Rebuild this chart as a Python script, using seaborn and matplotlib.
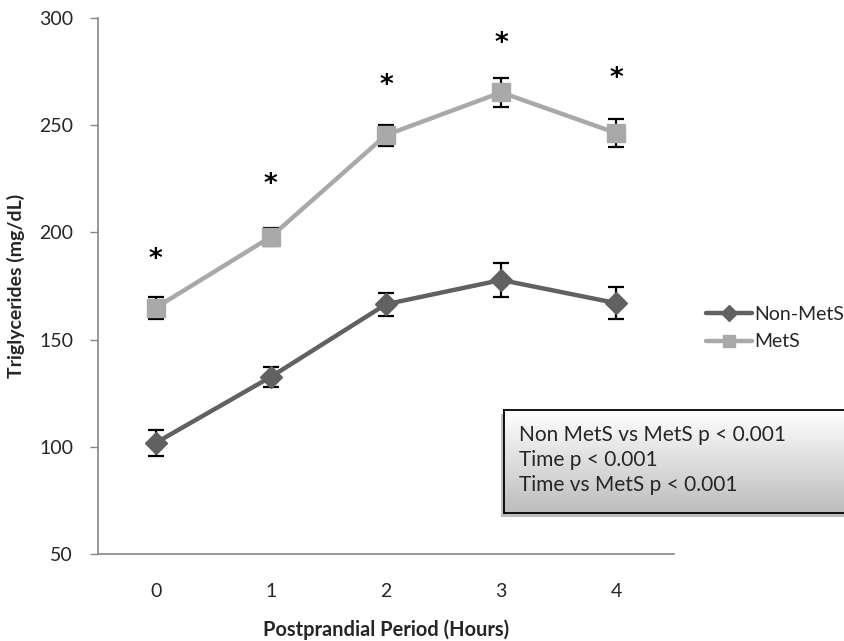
import numpy as np
import pandas as pd
import matplotlib
matplotlib.use("Agg")
import matplotlib.pyplot as plt
import seaborn as sns
from matplotlib.patches import Rectangle
from matplotlib.lines import Line2D

hours = [0, 1, 2, 3, 4]
hour_labels = ["0", "1", "2", "3", "4"]
non_mets = [101.8, 132.6, 166.5, 177.8, 167.0]
non_mets_err = [6.2, 4.6, 5.4, 8.0, 7.6]
mets = [164.8, 197.9, 245.4, 265.3, 246.3]
mets_err = [5.0, 4.2, 4.9, 6.8, 6.6]
star_y = [188.5, 223.5, 270.0, 289.5, 273.0]
stats_lines = ["Non MetS vs MetS p < 0.001", "Time p < 0.001", "Time vs MetS p < 0.001"]

sns.set_style("white")
plt.rcParams['font.family'] = ['Lato', 'DejaVu Sans']

W, H = 845, 641
fig = plt.figure(figsize=(W / 100, H / 100), dpi=100)
ax = fig.add_axes([98 / W, 1 - 554 / H, (674 - 98) / W, (554 - 18) / H])

df = pd.DataFrame({
    "Hour": hours * 2,
    "TG": non_mets + mets,
    "Group": ["Non-MetS"] * 5 + ["MetS"] * 5,
})
c_non = "#616161"
c_met = "#a9a9a9"
sns.lineplot(data=df, x="Hour", y="TG", hue="Group",
             palette={"Non-MetS": c_non, "MetS": c_met},
             linewidth=3.2, ax=ax, legend=False)

ax.errorbar(hours, non_mets, yerr=non_mets_err, fmt="none", ecolor="black",
            elinewidth=1.6, capsize=6, capthick=1.6, zorder=3)
ax.errorbar(hours, mets, yerr=mets_err, fmt="none", ecolor="black",
            elinewidth=1.6, capsize=6, capthick=1.6, zorder=3)
ax.plot(hours, non_mets, linestyle="none", marker="D", markersize=11,
        color=c_non, zorder=4)
ax.plot(hours, mets, linestyle="none", marker="s", markersize=13.5,
        color=c_met, zorder=4)

for h, y in zip(hours, star_y):
    ax.text(h, y - 1.5, "*", ha="center", va="center", fontsize=19,
            fontweight="bold", color="black", family="DejaVu Sans")

ax.set_xlim(-0.5, 4.5)
ax.set_ylim(50, 300)
ax.set_yticks([50, 100, 150, 200, 250, 300])
ax.set_xticks(hours)
ax.set_xticklabels(hour_labels)
ax.set_xticks(np.arange(-0.5, 5, 1), minor=True)
ax.tick_params(axis="x", which="major", length=0, pad=21, labelsize=14)
ax.tick_params(axis="x", which="minor", length=5, width=1, color="#868686",
               direction="out")
ax.tick_params(axis="y", length=6, width=1, color="#868686", direction="out",
               pad=12, labelsize=14, left=True)
for s in ["top", "right"]:
    ax.spines[s].set_visible(False)
for s in ["left", "bottom"]:
    ax.spines[s].set_color("#868686")
    ax.spines[s].set_linewidth(1.2)

ax.set_xlabel("Postprandial Period (Hours)", fontsize=14.4, fontweight="bold",
              labelpad=14)
ax.set_ylabel("Triglycerides (mg/dL)", fontsize=14, fontweight="bold",
              labelpad=10)

# legend
handles = [Line2D([], [], color=c_non, lw=3.2, marker="D", markersize=8),
           Line2D([], [], color=c_met, lw=3.2, marker="s", markersize=9)]
fig.legend(handles, ["Non-MetS", "MetS"], loc="upper left",
           bbox_to_anchor=(698 / W, 1 - 298 / H), frameon=False,
           fontsize=14, handlelength=2.4, handletextpad=0.1,
           labelspacing=0.55, borderaxespad=0)

# stats box with gradient and shadow
bx0, by0, bx1, by1 = 504, 410, 860, 513
shadow = Rectangle(((bx0 - 3) / W, 1 - (by1 + 4) / H), (bx1 - bx0) / W,
                   (by1 - by0) / H, transform=fig.transFigure,
                   facecolor="#8a8a8a", edgecolor="none", alpha=0.55, zorder=1)
fig.patches.append(shadow)
bax = fig.add_axes([bx0 / W, 1 - by1 / H, (bx1 - bx0) / W, (by1 - by0) / H],
                   zorder=2)
grad = np.linspace(1.0, 0.74, 200).reshape(-1, 1)
bax.imshow(np.dstack([grad, grad, grad]), aspect="auto",
           extent=[0, 1, 0, 1], origin="upper", interpolation="bilinear")
bax.set_xlim(0, 1)
bax.set_ylim(0, 1)
bax.set_xticks([])
bax.set_yticks([])
for s in bax.spines.values():
    s.set_color("black")
    s.set_linewidth(1.3)
for i, line in enumerate(stats_lines):
    fig.text(519 / W, 1 - (435 + i * 25) / H, line, fontsize=15,
             va="center", ha="left", zorder=5)

fig.savefig("out.png", dpi=100)
